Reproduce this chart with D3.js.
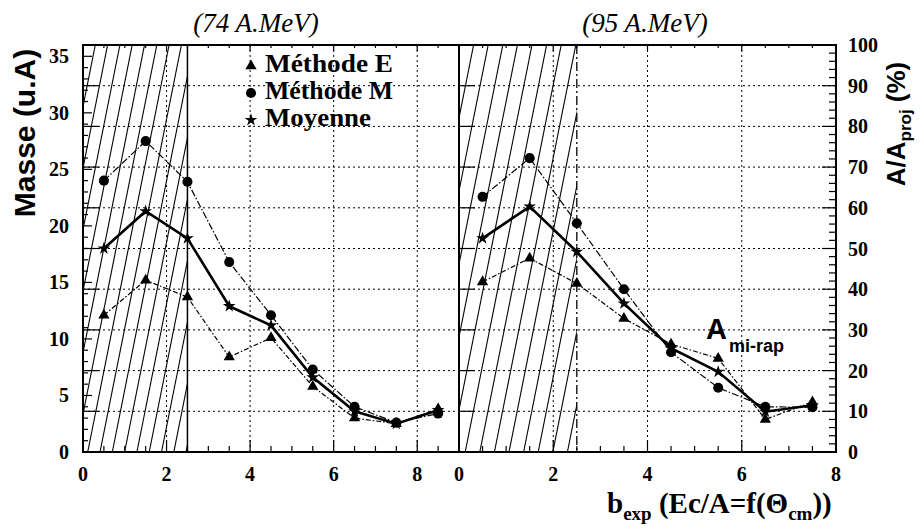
<!DOCTYPE html>
<html><head><meta charset="utf-8">
<script src="https://cdn.jsdelivr.net/npm/d3@7"></script>
<style>body{margin:0;background:#fff}svg{display:block}</style>
</head><body><svg id="c" width="921" height="528"></svg>
<script>
// ---- data ----
const bCenters = [0.5,1.5,2.5,3.5,4.5,5.5,6.5,7.5,8.5];
const left74_E   = [12.1,15.2,13.7,8.4,10.1,5.8,3.0,2.5,3.8];   // mass (u.A)
const left74_M   = [24.0,27.5,23.9,16.8,12.1,7.3,4.0,2.6,3.4];
const left74_Moy = [18.0,21.3,18.9,12.9,11.2,6.6,3.6,2.5,3.7];
const bCenters95 = [0.5,1.5,2.5,3.5,4.5,5.5,6.5,7.5];
const right95_E   = [41.8,47.6,41.4,32.8,26.5,23.0,8.0,12.3];   // percent
const right95_M   = [62.7,72.2,56.2,40.0,24.5,15.8,11.1,11.0];
const right95_Moy = [52.5,60.3,49.2,36.5,25.5,19.7,9.9,11.5];
const massTicks = [0,5,10,15,20,25,30,35];
const pctTicks = [0,10,20,30,40,50,60,70,80,90,100];
const xTickLabels = [0,2,4,6,8];
const legendNames = ["Méthode E","Méthode M","Moyenne"];

const svg = d3.select("#c");
const yTop = 45, yBot = 452;
const xL = d3.scaleLinear().domain([0,9]).range([83,459]);
const xR = d3.scaleLinear().domain([0,8]).range([459,836]);
const yMass = d3.scaleLinear().domain([0,36]).range([yBot,yTop]);
const yPct = d3.scaleLinear().domain([0,100]).range([yBot,yTop]);

const defs = svg.append("defs");
defs.append("clipPath").attr("id","hl").append("rect")
  .attr("x",xL(0)).attr("y",yTop).attr("width",xL(2.5)-xL(0)).attr("height",yBot-yTop);
defs.append("clipPath").attr("id","hr").append("rect")
  .attr("x",xR(0)).attr("y",yTop).attr("width",xR(2.5)-xR(0)).attr("height",yBot-yTop);

// grid
const g = svg.append("g").attr("stroke","#000").attr("stroke-width",1).attr("stroke-dasharray","2,3");
pctTicks.slice(1,10).forEach(p=>{
  g.append("line").attr("x1",xL(0)).attr("x2",xR(8)).attr("y1",yPct(p)).attr("y2",yPct(p));
});
[2,4,6,8].forEach(v=>{
  g.append("line").attr("x1",xL(v)).attr("x2",xL(v)).attr("y1",yTop).attr("y2",yBot);
});
[2,4,6].forEach(v=>{
  g.append("line").attr("x1",xR(v)).attr("x2",xR(v)).attr("y1",yTop).attr("y2",yBot);
});

// hatching
function hatch(clip, x0, x1, step){
  const hg = svg.append("g").attr("clip-path",`url(#${clip})`).attr("stroke","#000").attr("stroke-width",1.1);
  const h = yBot-yTop, dx = 0.2*h;
  d3.range(x0-dx-step, x1+step, step).forEach(x=>{
    hg.append("line").attr("x1",x).attr("y1",yBot).attr("x2",x+dx).attr("y2",yTop);
  });
}
hatch("hl", xL(0), xL(2.5), 12.3);
hatch("hr", xR(0), xR(2.5), 14.6);

svg.append("line").attr("x1",xL(2.5)).attr("x2",xL(2.5)).attr("y1",yTop).attr("y2",yBot)
  .attr("stroke","#000").attr("stroke-width",1.5);
svg.append("line").attr("x1",xR(2.5)).attr("x2",xR(2.5)).attr("y1",yTop).attr("y2",yBot)
  .attr("stroke","#000").attr("stroke-width",1.3).attr("stroke-dasharray","9,3,2,3");

// frame
svg.append("rect").attr("x",xL(0)).attr("y",yTop).attr("width",xR(8)-xL(0)).attr("height",yBot-yTop)
  .attr("fill","none").attr("stroke","#000").attr("stroke-width",2);
svg.append("line").attr("x1",xR(0)).attr("x2",xR(0)).attr("y1",yTop).attr("y2",yBot)
  .attr("stroke","#000").attr("stroke-width",2);

// ticks
const tk = svg.append("g").attr("stroke","#000").attr("stroke-width",1.2);
function xticks(sc, max){
  d3.range(0, max+0.01, 0.5).forEach(v=>{
    const len = (v%2===0)?12:6;
    tk.append("line").attr("x1",sc(v)).attr("x2",sc(v)).attr("y1",yBot).attr("y2",yBot-len);
    tk.append("line").attr("x1",sc(v)).attr("x2",sc(v)).attr("y1",yTop).attr("y2",yTop+len/2);
  });
}
xticks(xL, 9); xticks(xR, 8);
d3.range(0,36,1).forEach(m=>{
  tk.append("line").attr("x1",xL(0)).attr("x2",xL(0)+(m%5===0?9:5)).attr("y1",yMass(m)).attr("y2",yMass(m));
});
pctTicks.forEach(p=>{
  tk.append("line").attr("x1",xL(0)).attr("x2",xL(0)+16).attr("y1",yPct(p)).attr("y2",yPct(p));
  tk.append("line").attr("x1",xR(0)).attr("x2",xR(0)+16).attr("y1",yPct(p)).attr("y2",yPct(p));
});
d3.range(0,101,2).forEach(p=>{
  tk.append("line").attr("x1",xR(8)).attr("x2",xR(8)-(p%10===0?14:7)).attr("y1",yPct(p)).attr("y2",yPct(p));
});

// series
function drawSeries(xs, ys, xsc, ysc, dash, w, sym, size){
  const line = d3.line().x((d,i)=>xsc(xs[i])).y(d=>ysc(d));
  svg.append("path").attr("d",line(ys)).attr("fill","none").attr("stroke","#000")
    .attr("stroke-width",w).attr("stroke-dasharray",dash);
  const s = d3.symbol().type(sym).size(size);
  svg.append("g").selectAll("path").data(ys).join("path")
    .attr("d",s).attr("fill","#000")
    .attr("transform",(d,i)=>`translate(${xsc(xs[i])},${ysc(d)})`);
}
drawSeries(bCenters, left74_M, xL, yMass, "7,2,1.5,2", 1.2, d3.symbolCircle, 80);
drawSeries(bCenters, left74_E, xL, yMass, "5,2,1.5,2", 1.2, d3.symbolTriangle, 55);
drawSeries(bCenters, left74_Moy, xL, yMass, null, 2.6, d3.symbolStar, 50);
drawSeries(bCenters95, right95_M, xR, yPct, "7,2,1.5,2", 1.2, d3.symbolCircle, 80);
drawSeries(bCenters95, right95_E, xR, yPct, "5,2,1.5,2", 1.2, d3.symbolTriangle, 55);
drawSeries(bCenters95, right95_Moy, xR, yPct, null, 2.6, d3.symbolStar, 50);

// tick labels
const serifB = "'Liberation Serif','Times New Roman',serif";
const sansB = "'Liberation Sans',Arial,sans-serif";
const tl = svg.append("g").attr("font-family",serifB).attr("font-weight","bold").attr("font-size",20).attr("fill","#000");
massTicks.forEach(m=>{
  tl.append("text").attr("x",69).attr("y",yMass(m)+7).attr("text-anchor","end").text(m);
});
pctTicks.forEach(p=>{
  tl.append("text").attr("x",848).attr("y",yPct(p)+7).attr("text-anchor","start").text(p);
});
xTickLabels.forEach(v=>{
  tl.append("text").attr("x",xL(v)).attr("y",481).attr("text-anchor","middle").text(v);
  tl.append("text").attr("x",xR(v)).attr("y",481).attr("text-anchor","middle").text(v);
});

// titles
svg.append("text").attr("x",256).attr("y",32).attr("text-anchor","middle")
  .attr("font-family",serifB).attr("font-style","italic").attr("font-size",27).text("(74 A.MeV)");
svg.append("text").attr("x",645).attr("y",32).attr("text-anchor","middle")
  .attr("font-family",serifB).attr("font-style","italic").attr("font-size",27).text("(95 A.MeV)");

// axis labels
svg.append("text").attr("transform","translate(35,133) rotate(-90)").attr("text-anchor","middle")
  .attr("font-family",sansB).attr("font-weight","bold").attr("font-size",30).text("Masse (u.A)");
const rl = svg.append("text").attr("transform","translate(905,124) rotate(-90)").attr("text-anchor","middle")
  .attr("font-family",sansB).attr("font-weight","bold").attr("font-size",26);
rl.append("tspan").text("A/A");
rl.append("tspan").attr("font-size",17).attr("dy",6).text("proj");
rl.append("tspan").attr("dy",-6).text(" (%)");

const xl = svg.append("text").attr("x",607).attr("y",513)
  .attr("font-family",serifB).attr("font-weight","bold").attr("font-size",29);
xl.append("tspan").text("b");
xl.append("tspan").attr("font-size",19).attr("dy",7).text("exp");
xl.append("tspan").attr("dy",-7).text(" (Ec/A=f(\u0398");
xl.append("tspan").attr("font-size",19).attr("dy",7).text("cm");
xl.append("tspan").attr("dy",-7).text("))");

const am = svg.append("text").attr("x",706).attr("y",339)
  .attr("font-family",sansB).attr("font-weight","bold").attr("font-size",29);
am.append("tspan").text("A");
am.append("tspan").attr("font-size",18).attr("dy",13).attr("dx",2).text("mi-rap");

// legend
const legSyms = [d3.symbolTriangle, d3.symbolCircle, d3.symbolStar];
const legSizes = [55, 80, 50];
const legY = [72, 99, 126];
legendNames.forEach((n,i)=>{
  svg.append("path").attr("d",d3.symbol().type(legSyms[i]).size(legSizes[i]))
    .attr("transform",`translate(251,${legY[i]-6})`).attr("fill","#000");
  svg.append("text").attr("x",265).attr("y",legY[i]).attr("font-family",serifB)
    .attr("font-weight","bold").attr("font-size",26).attr("textLength",i===2?106:128)
    .attr("lengthAdjust","spacingAndGlyphs").text(n);
});
</script></body></html>
